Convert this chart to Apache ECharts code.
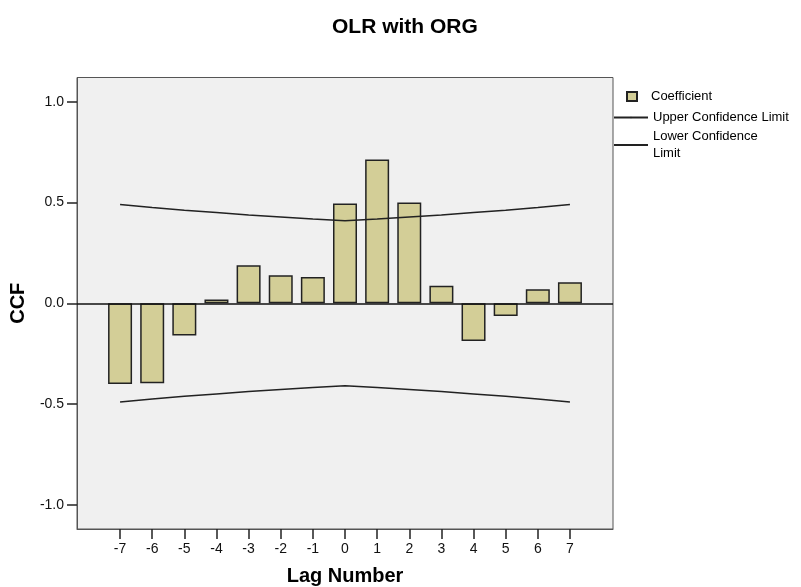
<!DOCTYPE html>
<html>
<head>
<meta charset="utf-8">
<script src="https://cdn.jsdelivr.net/npm/echarts@6/dist/echarts.min.js"></script>
<style>
html,body{margin:0;padding:0;background:#fff;}
#chart{width:801px;height:587px;}
</style>
</head>
<body>
<div id="chart"></div>
<script>
const lags = [-7, -6, -5, -4, -3, -2, -1, 0, 1, 2, 3, 4, 5, 6, 7];
const coefficients = [-0.400, -0.397, -0.160, 0.018, 0.188, 0.139, 0.130, 0.495, 0.713, 0.500, 0.087, -0.187, -0.063, 0.069, 0.104];
const upperLimit = [0.490, 0.475, 0.462, 0.450, 0.438, 0.428, 0.418, 0.409, 0.418, 0.428, 0.438, 0.450, 0.462, 0.475, 0.490];
const lowerLimit = [-0.490, -0.475, -0.462, -0.450, -0.438, -0.428, -0.418, -0.409, -0.418, -0.428, -0.438, -0.450, -0.462, -0.475, -0.490];
const yTicks = [-1.0, -0.5, 0.0, 0.5, 1.0];

const FONT = "'Liberation Sans', Arial, sans-serif";
const chart = echarts.init(document.getElementById('chart'), null, {renderer: 'canvas'});

const option = {
  animation: false,
  backgroundColor: '#ffffff',
  textStyle: {fontFamily: FONT},
  title: {
    text: 'OLR with ORG',
    left: 332,
    top: 17,
    padding: 0,
    textStyle: {fontFamily: FONT, fontSize: 21, fontWeight: 'bold', color: '#000'}
  },
  legend: [
    {
      data: ['Coefficient'],
      left: 626,
      top: 90,
      padding: 0,
      itemWidth: 10,
      itemHeight: 9,
      icon: 'rect',
      textStyle: {fontFamily: FONT, fontSize: 13, color: '#000', padding: [0, 0, 0, 9]}
    },
    {
      data: ['Upper Confidence Limit', 'Lower Confidence Limit'],
      orient: 'vertical',
      left: 613,
      top: 109,
      padding: 0,
      itemWidth: 34,
      itemHeight: 2,
      itemGap: 2,
      formatter: function (n) { return n === 'Lower Confidence Limit' ? 'Lower Confidence\nLimit' : n; },
      textStyle: {fontFamily: FONT, fontSize: 13, color: '#000', lineHeight: 17}
    }
  ],
  grid: {
    left: 77, right: 188, top: 77.5, bottom: 58,
    outerBoundsMode: 'none',
    containLabel: false,
    show: true, backgroundColor: '#f0f0f0', borderColor: '#555', borderWidth: 1
  },
  xAxis: {
    type: 'value',
    min: -8.34, max: 8.34,
    name: 'Lag Number',
    nameLocation: 'middle',
    nameGap: 37,
    nameTextStyle: {fontFamily: FONT, fontSize: 20, fontWeight: 'bold', color: '#000'},
    axisLine: {show: true, onZero: false, lineStyle: {color: '#555', width: 1}},
    splitLine: {show: false},
    axisTick: {show: true, inside: false, customValues: lags, length: 10, lineStyle: {color: '#222', width: 1.5}},
    axisLabel: {customValues: lags, fontSize: 14, color: '#111', margin: 13, fontFamily: FONT}
  },
  yAxis: {
    type: 'value',
    min: -1.12, max: 1.12,
    name: 'CCF',
    nameLocation: 'middle',
    nameGap: 49,
    nameTextStyle: {fontFamily: FONT, fontSize: 20, fontWeight: 'bold', color: '#000'},
    axisLine: {show: true, onZero: false, lineStyle: {color: '#555', width: 1}},
    splitLine: {show: false},
    axisTick: {show: true, inside: false, customValues: yTicks, length: 10, lineStyle: {color: '#222', width: 1.5}},
    axisLabel: {customValues: yTicks, fontSize: 14, color: '#111', margin: 13, fontFamily: FONT,
      formatter: function (v) { return Number(v).toFixed(1); }}
  },
  series: [
    {
      name: 'Coefficient',
      type: 'bar',
      barWidth: 24,
      data: lags.map(function (l, i) { return [l, coefficients[i]]; }),
      itemStyle: {color: '#d3ce97', borderColor: '#222', borderWidth: 1.5},
      markLine: {
        silent: true,
        symbol: 'none',
        label: {show: false},
        lineStyle: {color: '#111', width: 1.5, type: 'solid'},
        data: [{yAxis: 0}]
      }
    },
    {
      name: 'Upper Confidence Limit',
      type: 'line',
      symbol: 'none',
      data: lags.map(function (l, i) { return [l, upperLimit[i]]; }),
      lineStyle: {color: '#222', width: 1.5},
      itemStyle: {color: '#222'}
    },
    {
      name: 'Lower Confidence Limit',
      type: 'line',
      symbol: 'none',
      data: lags.map(function (l, i) { return [l, lowerLimit[i]]; }),
      lineStyle: {color: '#222', width: 1.5},
      itemStyle: {color: '#222'}
    }
  ]
};
chart.setOption(option);
</script>
</body>
</html>
